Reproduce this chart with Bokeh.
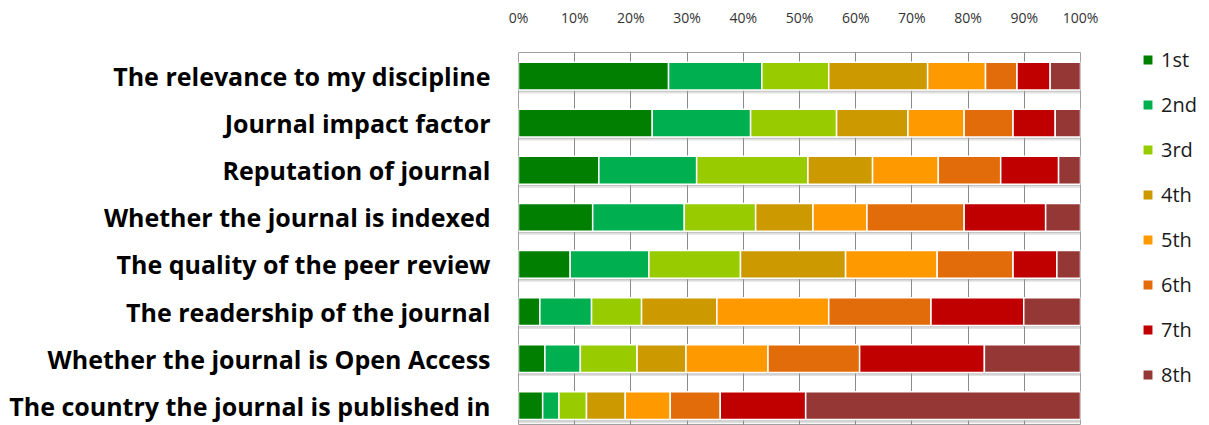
from bokeh.plotting import figure
from bokeh.models import Range1d, Legend, LegendItem, FixedTicker, ColumnDataSource
from bokeh.transform import dodge
from bokeh.embed import file_html
from bokeh.resources import INLINE

categories = [
    "The relevance to my discipline",
    "Journal impact factor",
    "Reputation of journal",
    "Whether the journal is indexed",
    "The quality of the peer review",
    "The readership of the journal",
    "Whether the journal is Open Access",
    "The country the journal is published in",
]
ranks = ["1st", "2nd", "3rd", "4th", "5th", "6th", "7th", "8th"]
colors = ["#007F00", "#00B050", "#99CC00", "#CC9900", "#FF9900", "#E36C0A", "#C00000", "#953735"]

r1st = [26.7, 23.8, 14.3, 13.2, 9.2, 3.8, 4.7, 4.3]
r2nd = [16.6, 17.5, 17.4, 16.3, 14.0, 9.2, 6.3, 2.9]
r3rd = [11.9, 15.3, 19.8, 12.7, 16.3, 8.9, 10.1, 4.9]
r4th = [17.6, 12.7, 11.5, 10.2, 18.7, 13.4, 8.7, 6.9]
r5th = [10.3, 10.0, 11.7, 9.6, 16.3, 19.9, 14.6, 8.0]
r6th = [5.6, 8.7, 11.1, 17.3, 13.5, 18.2, 16.3, 8.9]
r7th = [5.9, 7.5, 10.3, 14.5, 7.8, 16.5, 22.2, 15.2]
r8th = [5.4, 4.5, 3.9, 6.2, 4.2, 10.1, 17.1, 48.9]

tick_values = [0, 10, 20, 30, 40, 50, 60, 70, 80, 90, 100]
tick_labels = ["0%", "10%", "20%", "30%", "40%", "50%", "60%", "70%", "80%", "90%", "100%"]

n = len(categories)
positions = list(range(n))

data = {"pos": positions}
for name, vals in zip(ranks, [r1st, r2nd, r3rd, r4th, r5th, r6th, r7th, r8th]):
    data[name] = vals
data["zero"] = [0] * n
data["full"] = [100] * n
source = ColumnDataSource(data)

p = figure(
    y_range=Range1d(n - 0.58, -0.5),
    x_range=(0, 100),
    x_axis_location="above",
    frame_width=562, frame_height=373,
    min_border_left=518, min_border_top=52, min_border_bottom=0, min_border_right=121,
    output_backend="svg", toolbar_location=None,
)

# shadows
p.hbar(y=dodge("pos", 0.075, range=p.y_range), left="zero", right="full", height=0.59,
       source=source, fill_color="#9a9a9a", fill_alpha=0.3, line_color=None)
p.hbar(y=dodge("pos", 0.04, range=p.y_range), left="zero", right="full", height=0.59,
       source=source, fill_color="#9a9a9a", fill_alpha=0.4, line_color=None)

renderers = p.hbar_stack(ranks, y="pos", height=0.59, color=colors, source=source,
                         line_color="white", line_width=1.5)

legend = Legend(items=[LegendItem(label=r, renderers=[rr]) for r, rr in zip(ranks, renderers)],
                location=(61, 37))
legend.glyph_width = 13
legend.glyph_height = 13
legend.label_height = 24
legend.spacing = 18
legend.label_standoff = 7
legend.padding = 0
legend.margin = 0
legend.border_line_color = None
legend.background_fill_alpha = 0
legend.label_text_font = "Open Sans"
legend.label_text_font_size = "20px"
legend.label_text_color = "#1a1a1a"
p.add_layout(legend, "right")

p.xaxis.ticker = FixedTicker(ticks=tick_values)
p.xaxis.major_label_overrides = {v: l for v, l in zip(tick_values, tick_labels)}
p.xaxis.axis_line_color = None
p.xaxis.major_tick_line_color = None
p.xaxis.minor_tick_line_color = None
p.xaxis.major_label_standoff = 20
p.xaxis.major_label_text_font = "Open Sans"
p.xaxis.major_label_text_font_size = "14px"
p.xaxis.major_label_text_color = "#333333"

p.yaxis.ticker = FixedTicker(ticks=positions)
p.yaxis.major_label_overrides = {i: c for i, c in zip(positions, categories)}
p.yaxis.axis_line_color = None
p.yaxis.major_tick_line_color = None
p.yaxis.minor_tick_line_color = None
p.yaxis.major_label_standoff = 22
p.yaxis.major_label_text_font = "Open Sans"
p.yaxis.major_label_text_font_style = "bold"
p.yaxis.major_label_text_font_size = "25px"
p.yaxis.major_label_text_color = "#000000"

p.xgrid.grid_line_color = "#8a8a8a"
p.xgrid.grid_line_width = 1
p.ygrid.grid_line_color = None
p.outline_line_color = "#a0a0a0"
p.outline_line_width = 1
p.background_fill_color = "white"

open("out.html", "w").write(file_html(p, INLINE))
